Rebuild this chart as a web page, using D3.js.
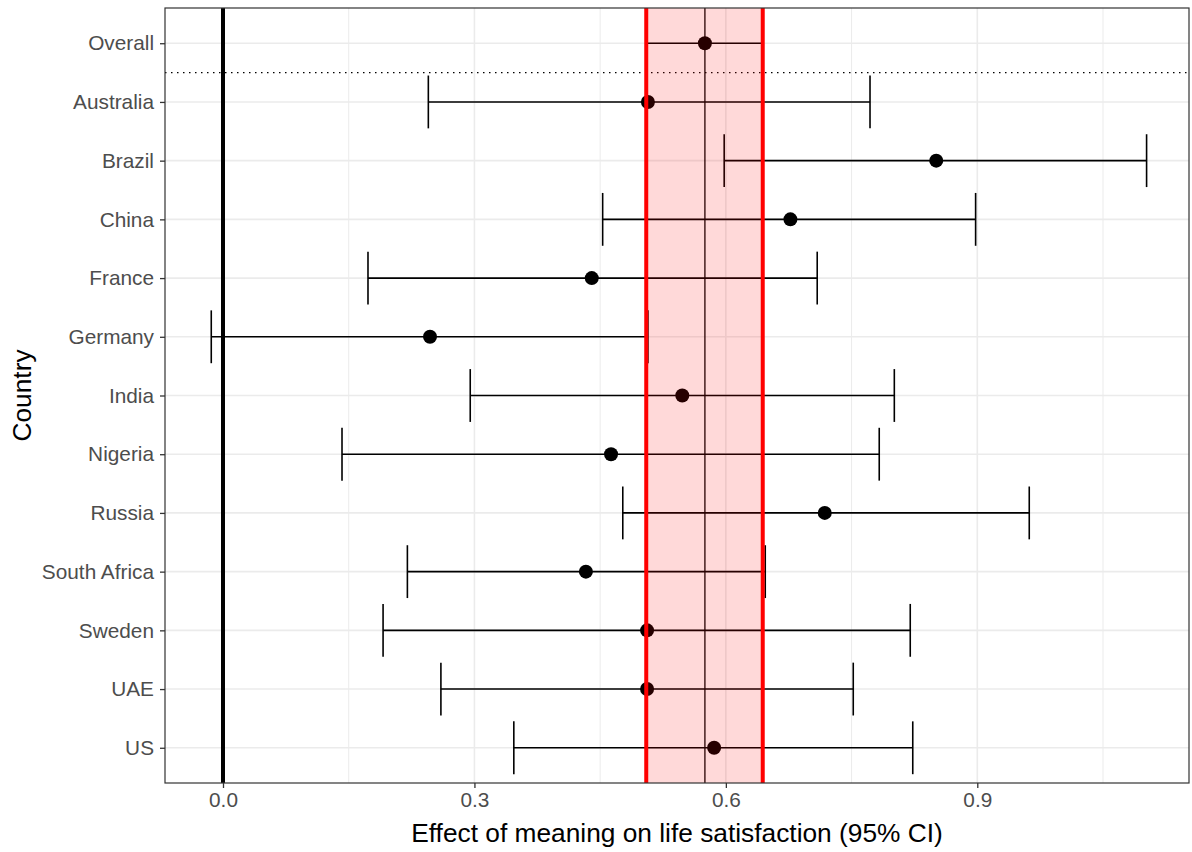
<!DOCTYPE html>
<html>
<head>
<meta charset="utf-8">
<script src="https://cdn.jsdelivr.net/npm/d3@7"></script>
<style>
  body { margin: 0; background: #fff; }
  text { font-family: "Liberation Sans", Arial, sans-serif; }
</style>
</head>
<body>
<div id="forest"></div>
<script>
// data
var countries = ["Overall", "Australia", "Brazil", "China", "France", "Germany", "India",
  "Nigeria", "Russia", "South Africa", "Sweden", "UAE", "US"]
var estimates = [0.575, 0.507, 0.851, 0.677, 0.440, 0.247, 0.548, 0.463, 0.718, 0.433, 0.506, 0.506, 0.586]
var lower     = [0.505, 0.245, 0.598, 0.453, 0.173, -0.014, 0.295, 0.142, 0.477, 0.220, 0.191, 0.260, 0.347]
var upper     = [0.644, 0.772, 1.102, 0.898, 0.709, 0.507, 0.801, 0.783, 0.962, 0.647, 0.820, 0.752, 0.823]
var xTicks = [0, 0.3, 0.6, 0.9]
var xMinor = [0.15, 0.45, 0.75, 1.05]

var rows = countries.map(function(c, i) {
  return { country: c, est: estimates[i], lo: lower[i], hi: upper[i] }
})

// set the dimensions of the graph
var width = 1192
var height = 852
var pLeft = 165, pRight = 1189, pTop = 8, pBottom = 783

var svg = d3.select("#forest")
  .append("svg")
    .attr("width", width)
    .attr("height", height)

var x = d3.scaleLinear()
  .domain([-0.0692, 1.1526])
  .range([pLeft, pRight])

var y = d3.scalePoint()
  .domain(countries)
  .range([pTop, pBottom])
  .padding(0.6)

var capH = y.step() * 0.9

// minor + major grid
svg.append("g")
  .selectAll("line")
  .data(xMinor)
  .enter()
  .append("line")
    .attr("x1", function(d){ return x(d) })
    .attr("x2", function(d){ return x(d) })
    .attr("y1", pTop)
    .attr("y2", pBottom)
    .attr("stroke", "#ebebeb")
    .attr("stroke-width", 1)

svg.append("g")
  .selectAll("line")
  .data(xTicks)
  .enter()
  .append("line")
    .attr("x1", function(d){ return x(d) })
    .attr("x2", function(d){ return x(d) })
    .attr("y1", pTop)
    .attr("y2", pBottom)
    .attr("stroke", "#ebebeb")
    .attr("stroke-width", 1.6)

svg.append("g")
  .selectAll("line")
  .data(countries)
  .enter()
  .append("line")
    .attr("x1", pLeft)
    .attr("x2", pRight)
    .attr("y1", function(d){ return y(d) })
    .attr("y2", function(d){ return y(d) })
    .attr("stroke", "#ebebeb")
    .attr("stroke-width", 1.6)

// zero line
svg.append("line")
  .attr("x1", x(0)).attr("x2", x(0))
  .attr("y1", pTop).attr("y2", pBottom)
  .attr("stroke", "black")
  .attr("stroke-width", 4)

// dotted separator under Overall
var sepY = (y(countries[0]) + y(countries[1])) / 2
svg.append("line")
  .attr("x1", pLeft).attr("x2", pRight)
  .attr("y1", sepY).attr("y2", sepY)
  .attr("stroke", "black")
  .attr("stroke-width", 1.4)
  .attr("stroke-dasharray", "1.5,4.5")

// overall estimate line
svg.append("line")
  .attr("x1", x(estimates[0])).attr("x2", x(estimates[0]))
  .attr("y1", pTop).attr("y2", pBottom)
  .attr("stroke", "black")
  .attr("stroke-width", 1.3)

// error bars
var bars = svg.append("g")
  .selectAll("g")
  .data(rows)
  .enter()
  .append("g")
    .attr("stroke", "black")
    .attr("stroke-width", 1.6)

bars.append("line")
  .attr("x1", function(d){ return x(d.lo) })
  .attr("x2", function(d){ return x(d.hi) })
  .attr("y1", function(d){ return y(d.country) })
  .attr("y2", function(d){ return y(d.country) })
bars.append("line")
  .attr("x1", function(d){ return x(d.lo) })
  .attr("x2", function(d){ return x(d.lo) })
  .attr("y1", function(d){ return y(d.country) - capH / 2 })
  .attr("y2", function(d){ return y(d.country) + capH / 2 })
bars.append("line")
  .attr("x1", function(d){ return x(d.hi) })
  .attr("x2", function(d){ return x(d.hi) })
  .attr("y1", function(d){ return y(d.country) - capH / 2 })
  .attr("y2", function(d){ return y(d.country) + capH / 2 })

// points
svg.append("g")
  .selectAll("circle")
  .data(rows)
  .enter()
  .append("circle")
    .attr("cx", function(d){ return x(d.est) })
    .attr("cy", function(d){ return y(d.country) })
    .attr("r", 7)
    .attr("fill", "black")

// shaded band for the overall CI, drawn on top
svg.append("rect")
  .attr("x", x(lower[0]))
  .attr("y", pTop)
  .attr("width", x(upper[0]) - x(lower[0]))
  .attr("height", pBottom - pTop)
  .attr("fill", "red")
  .attr("fill-opacity", 0.15)

svg.append("g")
  .selectAll("line")
  .data([lower[0], upper[0]])
  .enter()
  .append("line")
    .attr("x1", function(d){ return x(d) })
    .attr("x2", function(d){ return x(d) })
    .attr("y1", pTop)
    .attr("y2", pBottom)
    .attr("stroke", "red")
    .attr("stroke-width", 4)

// panel border
svg.append("rect")
  .attr("x", pLeft).attr("y", pTop)
  .attr("width", pRight - pLeft).attr("height", pBottom - pTop)
  .attr("fill", "none")
  .attr("stroke", "#333333")
  .attr("stroke-width", 1.2)

// axes
var xAxis = svg.append("g")
  .attr("transform", "translate(0," + pBottom + ")")
  .call(d3.axisBottom(x).tickValues(xTicks).tickFormat(d3.format(".1f")).tickSize(5).tickPadding(4))
var yAxis = svg.append("g")
  .attr("transform", "translate(" + pLeft + ",0)")
  .call(d3.axisLeft(y).tickSize(5).tickPadding(6))

svg.selectAll(".domain").remove()
svg.selectAll(".tick line").attr("stroke", "#333333").attr("stroke-width", 1.3)
svg.selectAll(".tick text")
  .attr("fill", "#4d4d4d")
  .style("font-family", "'Liberation Sans', Arial, sans-serif")
  .style("font-size", "20.8px")

// axis titles
svg.append("text")
  .attr("x", (pLeft + pRight) / 2)
  .attr("y", 842)
  .attr("text-anchor", "middle")
  .style("font-size", "26.3px")
  .text("Effect of meaning on life satisfaction (95% CI)")

svg.append("text")
  .attr("transform", "translate(31," + ((pTop + pBottom) / 2) + ") rotate(-90)")
  .attr("text-anchor", "middle")
  .style("font-size", "26.3px")
  .text("Country")
</script>
</body>
</html>
